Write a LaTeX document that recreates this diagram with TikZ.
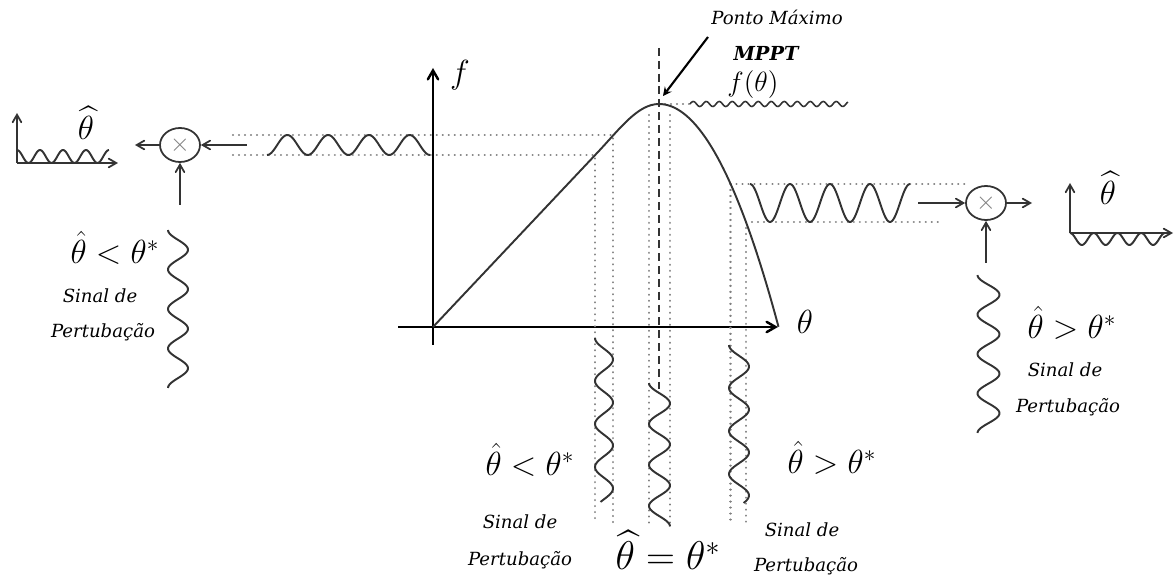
\documentclass[tikz,border=0pt]{standalone}
\usepackage{amsmath,amssymb}
\usepackage{fontspec}
\newfontfamily\notefont{DejaVu Serif}
\usepackage{tikz}
\usetikzlibrary{arrows,positioning,shapes.geometric}
\definecolor{sigGray}{HTML}{333333}
\definecolor{dotGray}{HTML}{808080}

\tikzset{
  axisline/.style={line width=1.4pt,->,>=angle 60},
  curveline/.style={line width=1.1pt,sigGray},
  guide/.style={dotGray,line width=1.3pt,dash pattern=on 0.01pt off 3.4pt,line cap=round},
  peakline/.style={sigGray,line width=1.1pt,dash pattern=on 4.5pt off 2.8pt},
  wave/.style={sigGray,line width=1.1pt,smooth},
  sig/.style={sigGray,line width=1pt,->,>=angle 60},
  mult/.style={draw=sigGray,ellipse,line width=1pt,minimum width=0.8cm,minimum height=0.68cm,inner sep=0pt,text=gray,font=\Large},
  mathbig/.style={font=\LARGE,scale=1.1,transform shape},
  mathhuge/.style={font=\huge,scale=1.1,transform shape},
  note/.style={font=\notefont\fontsize{10.3}{13}\selectfont\itshape},
}

\begin{document}
\begin{tikzpicture}[x=1cm,y=1cm]
    \useasboundingbox (-8.66,-5.04) rectangle (14.84,6.54);

    % axes of f(theta)
    \coordinate (O) at (0,0);
    \coordinate (yTop) at (0,5.18);
    \coordinate (yBot) at (0,-0.36);
    \coordinate (xTip) at (6.9,0);
    \coordinate (xLeft) at (-0.7,0);
    \draw[axisline] (yBot) -- (yTop);
    \draw[axisline] (xLeft) -- (xTip);
    \node[mathbig] (fLab) at (0.54,5.04) {$f$};
    \node[mathbig] (thLab) at (7.44,0.1) {$\theta$};

    % points on the curve
    \coordinate (peak) at (4.52,4.46);
    \coordinate (cL1) at (3.24,3.44);
    \coordinate (cL2) at (3.6,3.84);
    \coordinate (cR1) at (5.95,2.86);
    \coordinate (cR2) at (6.26,2.1);
    \coordinate (gBot) at (0,-3.92);
    \coordinate (gLeft) at (-4.0,0);

    % guide lines
    \draw[guide] (gLeft |- cL2) -- (cL2) -- (cL2 |- gBot);
    \draw[guide] (gLeft |- cL1) -- (cL1) -- (cL1 |- gBot);
    \draw[guide] (4.32,4.24) -- (4.32,-3.92);
    \draw[guide] (4.74,4.24) -- (4.74,-3.92);
    \draw[guide] (cR1) -- (10.74,2.86);
    \draw[guide] (cR2) -- (10.18,2.1);
    \draw[guide] (cR1) -- (cR1 |- gBot);
    \draw[guide] (cR2) -- (cR2 |- gBot);
    \draw[guide] (peak) -- (5.14,4.46);
    \draw[peakline] (4.52,5.58) -- (4.52,-1.26);

    % f(theta)
    \draw[curveline] (O) -- (3.3,3.5) .. controls (3.75,3.98) and (4.1,4.46) .. (peak)
      -- plot[domain=4.52:6.91,samples=40] (\x,{4.46-0.78*(\x-4.52)^2});

    % signals
    \draw[wave] plot[domain=-3.32:-0.06,samples=120] (\x,{3.64-0.2*cos(360*(\x+3.32)/0.815)});
    \draw[wave] plot[domain=6.34:9.54,samples=120] (\x,{2.48+0.38*cos(360*(\x-6.34)/0.8)});
    \draw[wave,line width=0.9pt] plot[domain=5.14:8.3,samples=200] (\x,{4.46+0.05*sin(360*(\x-5.14)/0.26)});
    \draw[wave] plot[domain=0:3.28,samples=120] ({3.42-0.18*cos(360*\x/0.86)},{-0.22-\x});
    \draw[wave] plot[domain=0:2.87,samples=120] ({4.53-0.21*cos(360*\x/0.82)},{-1.12-\x});
    \draw[wave] plot[domain=0:3.16,samples=120] ({6.12-0.2*cos(360*\x/0.86)},{-0.36-\x});
    \draw[wave] plot[domain=0:3.16,samples=120] ({-5.1-0.2*cos(360*\x/0.79)},{1.94-\x});
    \draw[wave] plot[domain=0:3.16,samples=120] ({11.11-0.22*cos(360*\x/0.79)},{1.04-\x});

    % left multiplier
    \node[mult] (mulL) at (-5.06,3.64) {$\times$};
    \coordinate (inL) at (-3.72,3.64);
    \coordinate (outL) at (-5.96,3.64);
    \coordinate (pertL) at (-5.06,2.44);
    \draw[sig] (inL) -- (mulL);
    \draw[sig] (mulL) -- (outL);
    \draw[sig] (pertL) -- (mulL);

    % right multiplier
    \node[mult] (mulR) at (11.06,2.48) {$\times$};
    \coordinate (inR) at (9.7,2.48);
    \coordinate (outR) at (11.98,2.48);
    \coordinate (pertR) at (11.06,1.28);
    \draw[sig] (inR) -- (mulR);
    \draw[sig] (mulR) -- (outR);
    \draw[sig] (pertR) -- (mulR);

    % small output plots
    \coordinate (spL) at (-8.32,3.28);
    \coordinate (spLy) at (-8.32,4.28);
    \coordinate (spLx) at (-6.3,3.28);
    \draw[sig] (spL) -- (spLy);
    \draw[sig] (spL) -- (spLx);
    \draw[wave] plot[domain=-8.32:-6.48,samples=80] (\x,{3.41+0.13*cos(360*(\x+8.32)/0.46)});
    \node[mathbig] (thHatL) at (-6.94,4.08) {$\widehat{\theta}$};

    \coordinate (spR) at (12.74,1.88);
    \coordinate (spRy) at (12.74,2.88);
    \coordinate (spRx) at (14.8,1.88);
    \draw[sig] (spR) -- (spRy);
    \draw[sig] (spR) -- (spRx);
    \draw[wave] plot[domain=12.74:14.64,samples=80] (\x,{1.76+0.12*cos(360*(\x-12.74)/0.475)});
    \node[mathbig] (thHatR) at (13.5,2.78) {$\widehat{\theta}$};

    % peak labels
    \node[note] (ponto) at (6.88,6.2) {Ponto Máximo};
    \node[font=\notefont\fontsize{11}{13}\selectfont\bfseries\itshape] (mppt) at (6.66,5.48) {MPPT};
    \node[font=\Large,scale=1.1,transform shape] (fTheta) at (6.4,4.84) {$f(\theta)$};
    \coordinate (mpptTail) at (5.5,5.8);
    \coordinate (mpptHead) at (4.6,4.62);
    \draw[-stealth,line width=1.2pt] (mpptTail) -- (mpptHead);

    % perturbation labels
    \node[mathbig] (ltL) at (-6.36,1.58) {$\hat{\theta} < \theta^{*}$};
    \node[note] (sinL) at (-6.66,0.62) {Sinal de};
    \node[note] (perL) at (-6.6,-0.1) {Pertubação};

    \node[mathbig] (gtR) at (12.78,0.08) {$\hat{\theta} > \theta^{*}$};
    \node[note] (sinR) at (12.64,-0.86) {Sinal de};
    \node[note] (perR) at (12.7,-1.6) {Pertubação};

    \node[mathbig] (ltB) at (1.94,-2.66) {$\hat{\theta} < \theta^{*}$};
    \node[note] (sinB) at (1.74,-3.9) {Sinal de};
    \node[note] (perB) at (1.74,-4.66) {Pertubação};

    \node[mathhuge] (eqB) at (4.7,-4.46) {$\widehat{\theta} = \theta^{*}$};

    \node[mathbig] (gtB) at (7.98,-2.62) {$\hat{\theta} > \theta^{*}$};
    \node[note] (sinB2) at (7.38,-4.06) {Sinal de};
    \node[note] (perB2) at (7.46,-4.78) {Pertubação};
  \end{tikzpicture}
\end{document}
